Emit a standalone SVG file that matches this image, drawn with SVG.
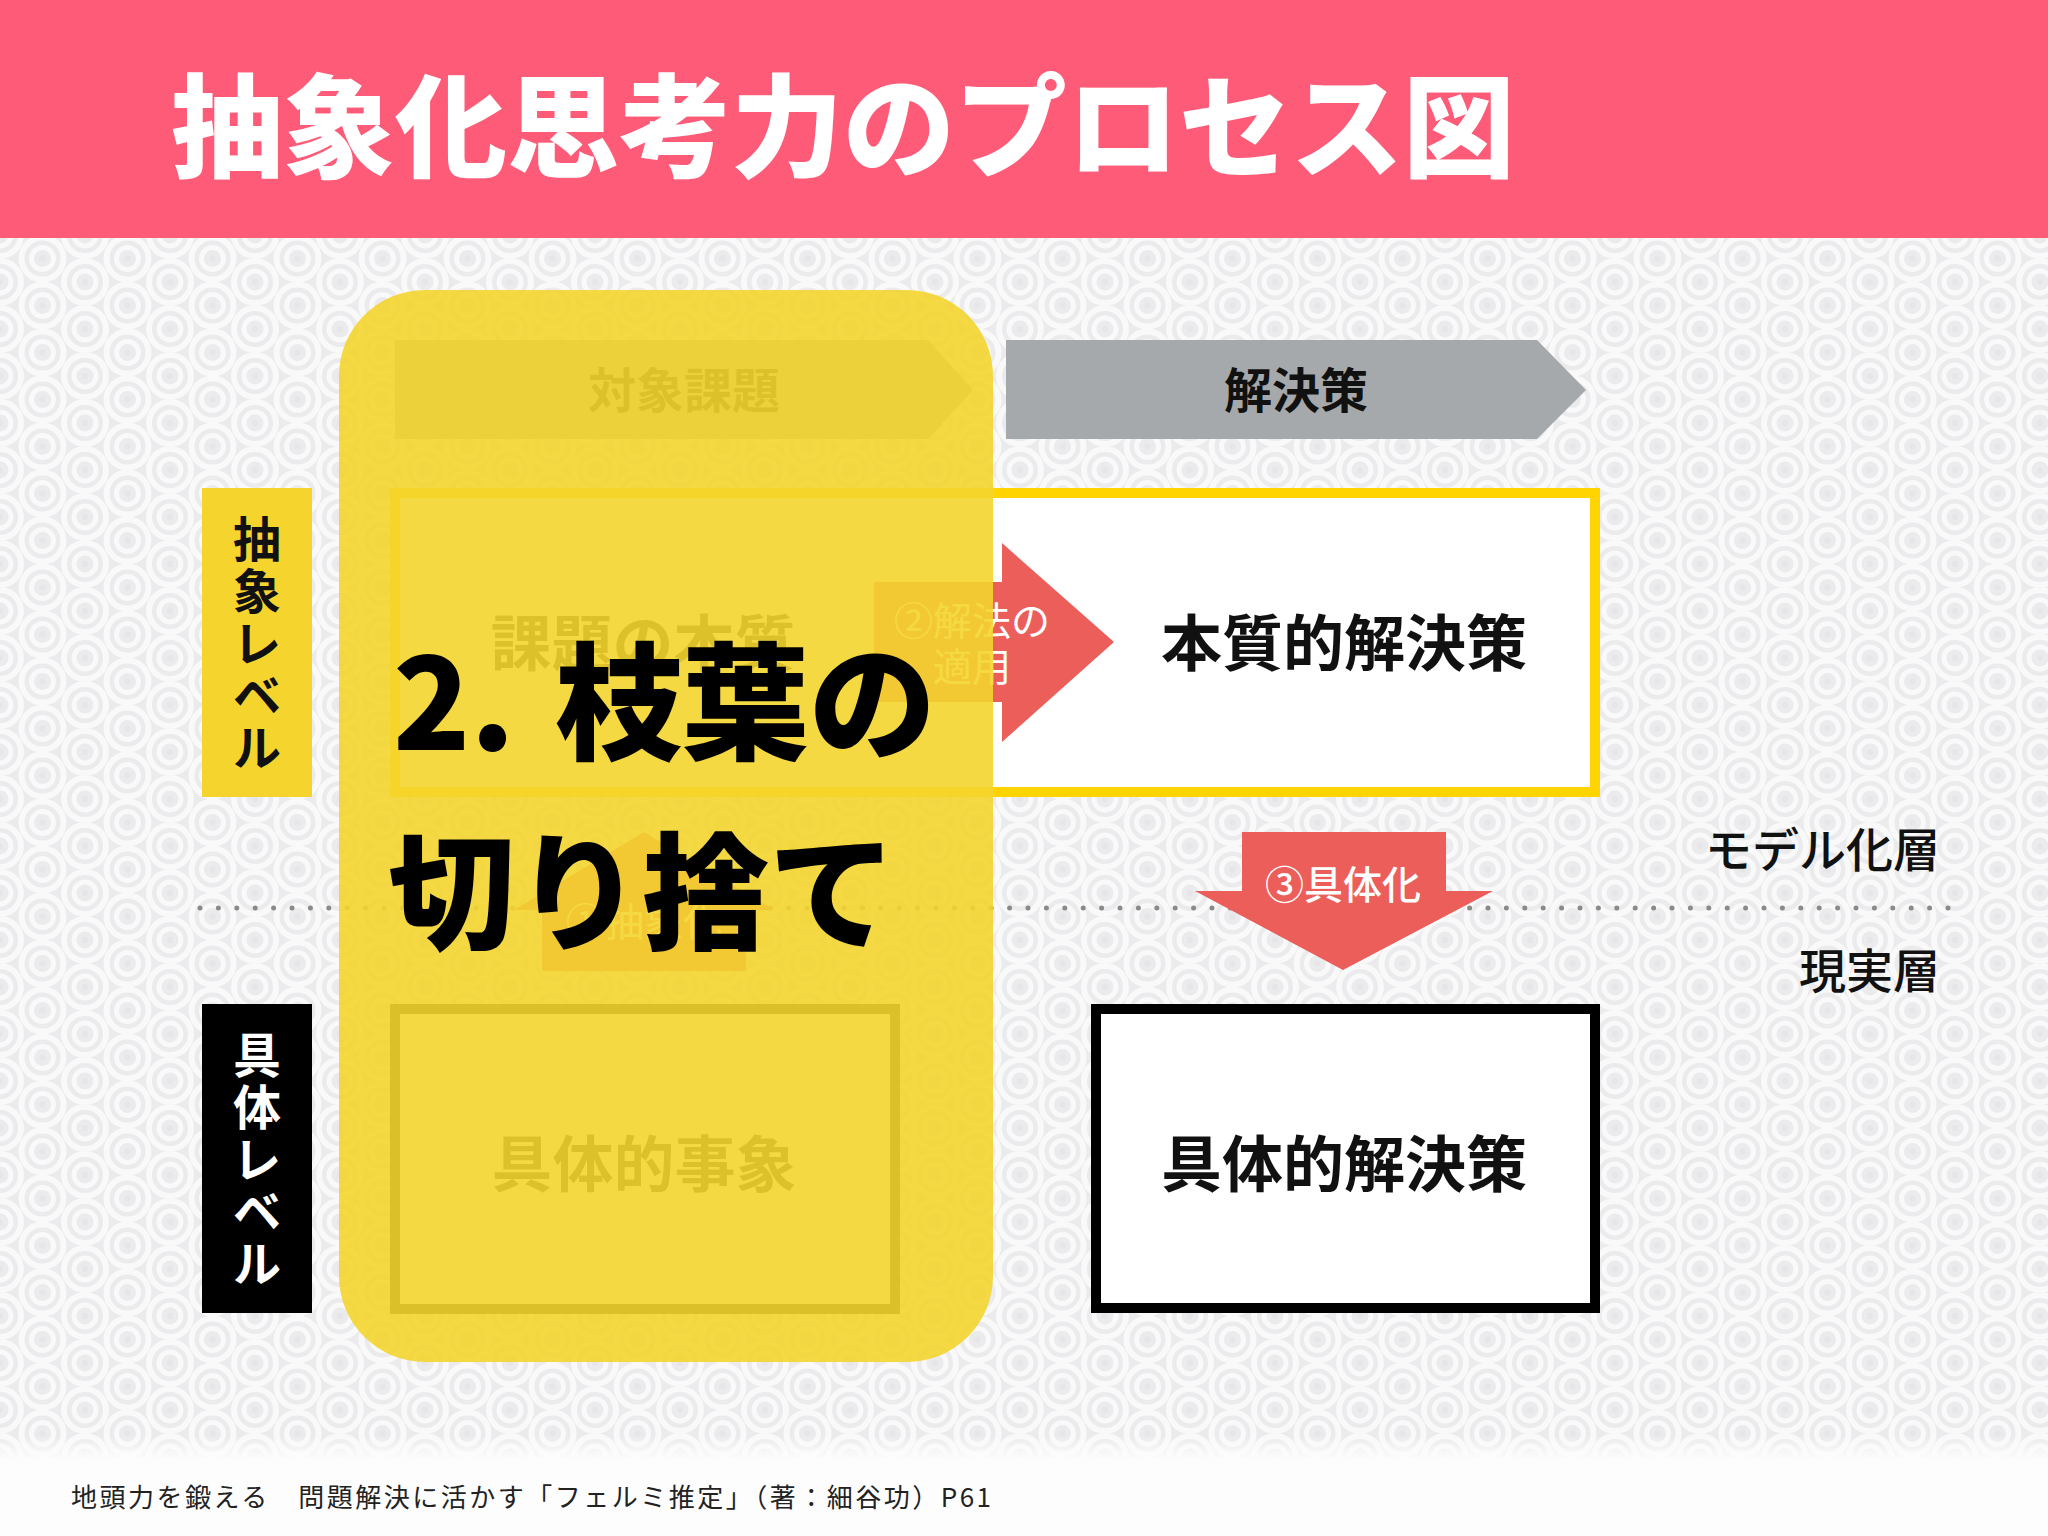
<svg xmlns="http://www.w3.org/2000/svg" width="2048" height="1536" viewBox="0 0 2048 1536">
<style>
.jp{font-family:"Noto Sans CJK JP","Noto Sans",sans-serif}
.b{font-weight:700}
.k{font-weight:900}
.r{font-weight:400}
.m{font-weight:500}
.red{fill:#EB5E5A}
.chev{fill:#A6A9AB}
.ybox{fill:#FFFFFF;stroke:#FFD400;stroke-width:10}
.kbox{fill:#FFFFFF;stroke:#000000;stroke-width:10}
.dark{fill:#111111}
.wt{fill:#FFFFFF}
</style>
<defs>
<g id="motif">
<circle r="21" fill="none" stroke="#F9F9FA" stroke-width="6"/>
<circle r="11" fill="none" stroke="#F9F9FA" stroke-width="5"/>
<circle r="3" fill="#E6E6E8"/>
</g>
<pattern id="bgpat" patternUnits="userSpaceOnUse" width="85" height="47">
<rect width="85" height="47" fill="#EBEBED"/>
<use href="#motif" x="0" y="0"/>
<use href="#motif" x="85" y="0"/>
<use href="#motif" x="0" y="47"/>
<use href="#motif" x="85" y="47"/>
<use href="#motif" x="42.5" y="23.5"/>
</pattern>
<linearGradient id="fade" x1="0" y1="0" x2="0" y2="1">
<stop offset="0" stop-color="#FDFDFD" stop-opacity="0"/>
<stop offset="1" stop-color="#FDFDFD" stop-opacity="1"/>
</linearGradient>
</defs>

<g id="background">
<rect x="0" y="0" width="2048" height="1536" fill="#FDFDFD"/>
<rect x="0" y="238" width="2048" height="1222" fill="url(#bgpat)"/>
<rect x="0" y="1436" width="2048" height="24" fill="url(#fade)"/>
<rect x="0" y="1460" width="2048" height="76" fill="#FDFDFD"/>
</g>

<g id="header">
<rect x="0" y="0" width="2048" height="238" fill="#FE5B78"/>
<text class="jp k" x="171" y="169" font-size="112" fill="#FFFFFF">抽象化思考力のプロセス図</text>
</g>

<g id="label-abstract">
<rect x="202" y="488" width="110" height="309" fill="#F6D42E"/>
<text class="jp b dark" font-size="48" text-anchor="middle"><tspan x="257" y="557">抽</tspan><tspan x="257" y="609">象</tspan><tspan x="257" y="661">レ</tspan><tspan x="257" y="713">ベ</tspan><tspan x="257" y="765">ル</tspan></text>
</g>
<g id="label-concrete">
<rect x="202" y="1004" width="110" height="309" fill="#000000"/>
<text class="jp b wt" font-size="48" text-anchor="middle"><tspan x="257" y="1073">具</tspan><tspan x="257" y="1125">体</tspan><tspan x="257" y="1177">レ</tspan><tspan x="257" y="1229">ベ</tspan><tspan x="257" y="1281">ル</tspan></text>
</g>

<g id="layer-labels">
<text class="jp m dark" x="1940" y="867" font-size="47" text-anchor="end">モデル化層</text>
<text class="jp m dark" x="1940" y="988" font-size="47" text-anchor="end">現実層</text>
</g>

<g id="connectors">
<line id="layer-divider" x1="200" y1="908" x2="1950" y2="908" stroke="#8A8A8A" stroke-width="5" stroke-linecap="round" stroke-dasharray="0 18.4"/>
</g>

<g id="header-problem">
<polygon class="chev" points="395,340 928,340 973,390 928,439 395,439"/>
<text class="jp b dark" x="684" y="408" font-size="48" text-anchor="middle">対象課題</text>
</g>
<g id="header-solution">
<polygon class="chev" points="1006,340 1537,340 1586,390 1537,439 1006,439"/>
<text class="jp b dark" x="1296" y="408" font-size="48" text-anchor="middle">解決策</text>
</g>

<g id="essence-box">
<rect class="ybox" x="395" y="493" width="1200" height="299"/>
<text class="jp b dark" x="643" y="666" font-size="61" text-anchor="middle">課題の本質</text>
<text class="jp b dark" x="1344" y="666" font-size="61" text-anchor="middle">本質的解決策</text>
</g>

<g id="concrete-event">
<rect class="kbox" x="395" y="1009" width="500" height="300"/>
<text class="jp b dark" x="644" y="1187" font-size="61" text-anchor="middle">具体的事象</text>
</g>
<g id="concrete-solution">
<rect class="kbox" x="1096" y="1009" width="499" height="299"/>
<text class="jp b dark" x="1344" y="1187" font-size="61" text-anchor="middle">具体的解決策</text>
</g>

<g id="arrow-abstract">
<polygon class="red" points="542,971 746,971 746,910 774,910 644,832 514,910 542,910"/>
<text class="jp r wt" x="644" y="936" font-size="39" text-anchor="middle">①抽象化</text>
</g>
<g id="arrow-apply">
<polygon class="red" points="874,582 1002,582 1002,543 1114,642 1002,742 1002,702 874,702"/>
<text class="jp r wt" font-size="39" text-anchor="middle"><tspan x="972" y="635">②解法の</tspan><tspan x="972" y="681">適用</tspan></text>
</g>
<g id="arrow-concretize">
<polygon class="red" points="1242,832 1446,832 1446,891 1493,891 1343,970 1195,891 1242,891"/>
<text class="jp m wt" x="1343" y="899" font-size="39" text-anchor="middle">③具体化</text>
</g>

<g id="highlight">
<rect x="339" y="290" width="654" height="1072" rx="86" ry="86" fill="#F4D52F" fill-opacity="0.9"/>
<text class="jp k" font-size="127" fill="#000000"><tspan x="393" y="750">2.</tspan><tspan x="555" y="750">枝葉の</tspan><tspan x="388" y="940">切り捨て</tspan></text>
</g>

<g id="footer">
<text class="jp r" x="71" y="1507" font-size="26" letter-spacing="2.5" fill="#222222">地頭力を鍛える　問題解決に活かす「フェルミ推定」（著：細谷功）P61</text>
</g>
</svg>
